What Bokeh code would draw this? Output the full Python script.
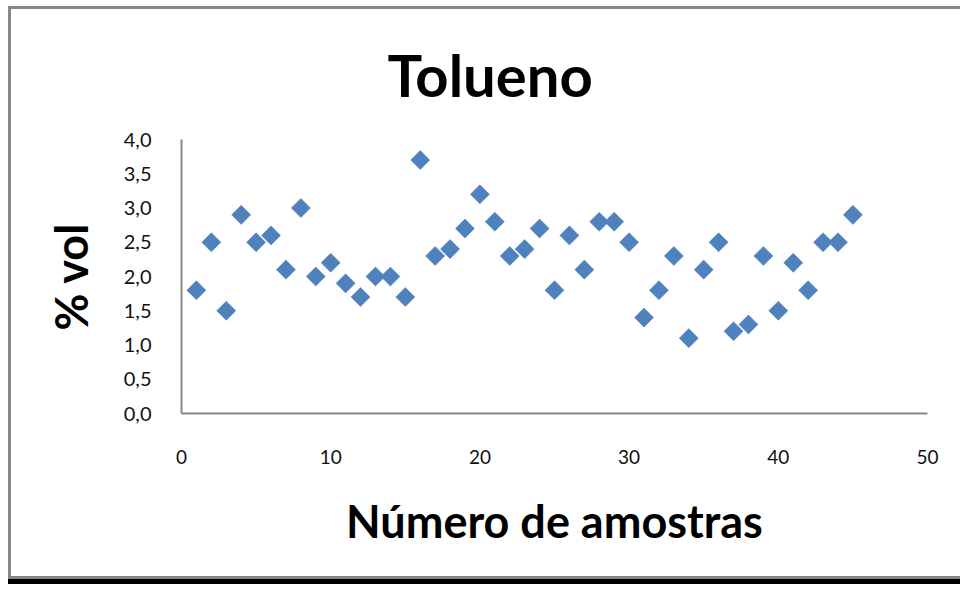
from bokeh.plotting import figure
from bokeh.models import FixedTicker, Range1d
from bokeh.embed import file_html
from bokeh.resources import INLINE

# ---- data ----
amostras = [1, 2, 3, 4, 5, 6, 7, 8, 9, 10, 11, 12, 13, 14, 15, 16, 17, 18, 19, 20,
            21, 22, 23, 24, 25, 26, 27, 28, 29, 30, 31, 32, 33, 34, 35, 36, 37, 38, 39, 40,
            41, 42, 43, 44, 45]
tolueno = [1.8, 2.5, 1.5, 2.9, 2.5, 2.6, 2.1, 3.0, 2.0, 2.2, 1.9, 1.7, 2.0, 2.0, 1.7, 3.7,
           2.3, 2.4, 2.7, 3.2, 2.8, 2.3, 2.4, 2.7, 1.8, 2.6, 2.1, 2.8, 2.8, 2.5, 1.4, 1.8,
           2.3, 1.1, 2.1, 2.5, 1.2, 1.3, 2.3, 1.5, 2.2, 1.8, 2.5, 2.5, 2.9]
x_ticks = [0, 10, 20, 30, 40, 50]
x_tick_labels = ["0", "10", "20", "30", "40", "50"]
y_ticks = [0.0, 0.5, 1.0, 1.5, 2.0, 2.5, 3.0, 3.5, 4.0]
y_tick_labels = ["0,0", "0,5", "1,0", "1,5", "2,0", "2,5", "3,0", "3,5", "4,0"]
title_text = "Tolueno"
x_title = "Número de amostras"
y_title = "% vol"

FONT = "Lato"
GRAY = "#878787"

p = figure(width=952, height=573, output_backend="svg", toolbar_location=None,
           x_range=Range1d(0, 50), y_range=Range1d(0, 4),
           min_border_left=170, min_border_right=36, min_border_top=130, min_border_bottom=169)
p.styles = {"margin-left": "8px", "margin-top": "6px",
            "border-left": f"3px solid {GRAY}", "border-top": f"3px solid {GRAY}",
            "border-bottom": f"3px solid {GRAY}", "box-shadow": "0 5px 0 0 #000"}
p.outline_line_color = None
p.background_fill_color = "white"
p.border_fill_color = "white"
p.xgrid.grid_line_color = None
p.ygrid.grid_line_color = None

p.scatter(amostras, tolueno, marker="square", size=13.5, angle=0.785398,
          fill_color="#4F81BD", line_color="#4F81BD", line_width=0.5)

for ax in (p.xaxis[0], p.yaxis[0]):
    ax.axis_line_color = GRAY
    ax.axis_line_width = 2
    ax.major_tick_line_color = None
    ax.minor_tick_line_color = None
    ax.major_label_text_font = FONT
    ax.major_label_text_color = "#111111"
    ax.axis_label_text_font = FONT
    ax.axis_label_text_font_style = "bold"
    ax.axis_label_text_font_size = "45px"
    ax.axis_label_text_color = "black"

p.xaxis.major_label_text_font_size = "19px"
p.yaxis.major_label_text_font_size = "20px"
p.xaxis.ticker = FixedTicker(ticks=x_ticks)
p.xaxis.major_label_overrides = dict(zip(x_ticks, x_tick_labels))
p.yaxis.ticker = FixedTicker(ticks=y_ticks)
p.yaxis.major_label_overrides = dict(zip(y_ticks, y_tick_labels))
p.xaxis.major_label_standoff = 30
p.yaxis.major_label_standoff = 24
p.xaxis.axis_label = x_title
p.yaxis.axis_label = y_title
p.xaxis.axis_label_standoff = 27
p.yaxis.axis_label_standoff = 23

p.title.text = title_text
p.title.align = "left"
p.title.offset = 206
p.title.vertical_align = "top"
p.title.standoff = 58
p.title.text_font = FONT
p.title.text_font_style = "bold"
p.title.text_font_size = "58px"
p.title.text_color = "black"

open("out.html", "w").write(file_html(p, INLINE))
